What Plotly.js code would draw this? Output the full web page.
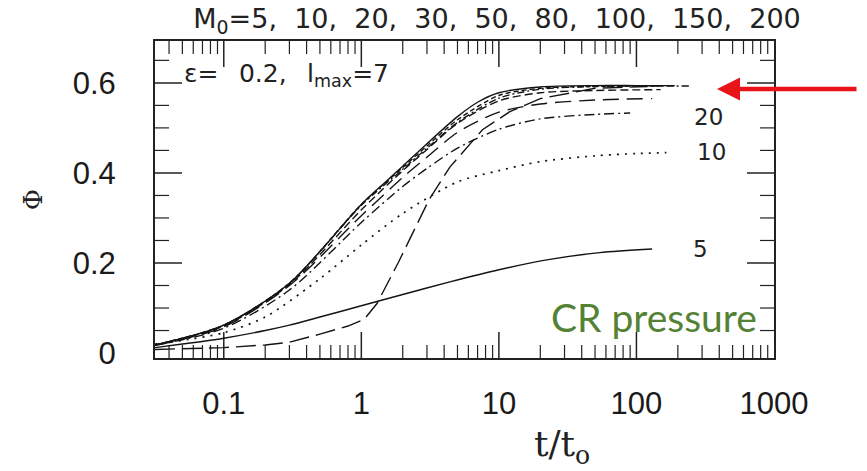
<!DOCTYPE html>
<html>
<head>
<meta charset="utf-8">
<script src="https://cdn.plot.ly/plotly-3.0.1.min.js"></script>
<style>html,body{margin:0;padding:0;background:#fff;}#chart{width:867px;height:471px;}</style>
</head>
<body>
<div id="chart"></div>
<script>
// ---- data (t/t0 vs Phi) ----
const machLabels = ["5", "10", "20", "30", "50", "80", "100", "150", "200"];

const tM5   = [0.0316, 0.05, 0.1, 0.2, 0.3, 0.5, 1, 2, 4.4, 10, 23.5, 54, 130];
const phiM5 = [0.012, 0.02, 0.033, 0.05, 0.062, 0.08, 0.105, 0.13, 0.158, 0.185, 0.208, 0.223, 0.231];

const tM10   = [0.0316, 0.05, 0.1, 0.2, 0.5, 1, 2, 5, 10, 20, 50, 100, 165];
const phiM10 = [0.02, 0.028, 0.045, 0.08, 0.165, 0.24, 0.31, 0.38, 0.405, 0.425, 0.438, 0.443, 0.445];

const tM20   = [0.0316, 0.1, 0.3, 1, 2, 3, 5, 10, 20, 50, 90];
const phiM20 = [0.017, 0.055, 0.14, 0.29, 0.37, 0.41, 0.455, 0.497, 0.52, 0.53, 0.533];

const tM30   = [0.0316, 0.1, 0.3, 1, 2, 3, 5, 10, 20, 50, 130];
const phiM30 = [0.017, 0.058, 0.15, 0.305, 0.39, 0.435, 0.49, 0.535, 0.553, 0.562, 0.565];

const tM50   = [0.0316, 0.1, 0.3, 1, 2, 3, 5, 10, 20, 50, 150];
const phiM50 = [0.018, 0.06, 0.152, 0.318, 0.405, 0.452, 0.51, 0.56, 0.578, 0.583, 0.585];

const tM80   = [0.0316, 0.1, 0.3, 1, 1.5, 2, 3, 5, 7, 10, 20, 50, 100, 190];
const phiM80 = [0.018, 0.062, 0.155, 0.33, 0.38, 0.415, 0.465, 0.525, 0.557, 0.578, 0.591, 0.594, 0.594, 0.594];

const tM100   = [0.0316, 0.1, 0.3, 1, 2, 3, 5, 10, 20, 50, 160];
const phiM100 = [0.018, 0.062, 0.155, 0.33, 0.412, 0.46, 0.518, 0.572, 0.588, 0.592, 0.593];

const tM150   = [0.0316, 0.1, 0.3, 1, 2, 3, 5, 10, 20, 50, 100, 245];
const phiM150 = [0.018, 0.062, 0.155, 0.328, 0.408, 0.455, 0.512, 0.566, 0.586, 0.592, 0.593, 0.593];

const tM200   = [0.0316, 0.1, 0.2, 0.3, 0.5, 0.8, 1.05, 1.3, 1.85, 2.3, 3.1, 4.4, 7.6, 12, 20, 50, 120];
const phiM200 = [0.008, 0.012, 0.018, 0.024, 0.042, 0.06, 0.075, 0.11, 0.2, 0.258, 0.34, 0.413, 0.496, 0.536, 0.565, 0.588, 0.592];

const xTickVals = [0.1, 1, 10, 100, 1000];
const xTickText = ["0.1", "1", "10", "100", "1000"];
const yTickVals = [0, 0.2, 0.4, 0.6];
const yTickText = ["0", "0.2", "0.4", "0.6"];

// curve end labels
const curveLabelText = ["20", "10", "5"];
const curveLabelT    = [335, 350, 290];
const curveLabelPhi  = [0.524, 0.447, 0.23];

// ---- geometry / styling ----
const W = 867, H = 471;
const L = 155, R = 774, T = 41, B = 358;
const xRange = [-1.5, 3];
const yRange = [-0.011, 0.693];
const px2paperX = px => (px - L) / (R - L);
const px2paperY = py => (B - py) / (B - T);

const ink = "#141414";
const frameCol = "#222222";
const series = [
  {t: tM5,   p: phiM5,   dash: "solid", shape: "spline", w: 1.4},
  {t: tM10,  p: phiM10,  dash: "2px,6px", shape: "spline", w: 1.7},
  {t: tM20,  p: phiM20,  dash: "10px,4px,2px,4px", shape: "spline", w: 1.4},
  {t: tM30,  p: phiM30,  dash: "16px,8px", shape: "spline", w: 1.4},
  {t: tM50,  p: phiM50,  dash: "8px,4px", shape: "spline", w: 1.4},
  {t: tM80,  p: phiM80,  dash: "solid", shape: "spline", w: 1.4},
  {t: tM100, p: phiM100, dash: "5px,3px", shape: "spline", w: 1.4},
  {t: tM150, p: phiM150, dash: "7px,3px,2px,3px", shape: "spline", w: 1.4},
  {t: tM200, p: phiM200, dash: "20px,7px", shape: "linear", w: 1.4}
];

// minor tick positions: 2..9 per decade on x, every 0.05 on y
const xMinor = [];
for (let d = -2; d <= 2; d++) {
  for (let k = 2; k <= 9; k++) {
    const v = k * Math.pow(10, d);
    if (v > 0.0316 && v < 1000) xMinor.push(v);
  }
}
const yMinor = [];
for (let k = 1; k <= 13; k++) if (k % 4 !== 0) yMinor.push(+(k * 0.05).toFixed(2));

// inward tick marks: line-symbol markers centred on the frame edges, the outer half clipped by the plot area
const xLo = Math.pow(10, xRange[0]), xHi = Math.pow(10, xRange[1]);
const symSize = len => len / 0.7;   // a line-ns / line-ew marker spans 1.4 * size/2 on each side
function markerTicks(xs, ys, symbol, len, w) {
  return {x: xs, y: ys, type: "scatter", mode: "markers", hoverinfo: "skip", showlegend: false,
    name: "tick", cliponaxis: true,
    marker: {symbol: symbol, size: symSize(len), color: frameCol, line: {color: frameCol, width: w}}};
}
const xMaj = xTickVals.filter(v => v < 1000);
const yMaj = yTickVals.filter(v => v > 0);
const tickTraces = [
  markerTicks(xMaj, xMaj.map(() => yRange[0]), "line-ns-open", 26, 1.5),
  markerTicks(xMaj, xMaj.map(() => yRange[1]), "line-ns-open", 26, 1.5),
  markerTicks(xMinor, xMinor.map(() => yRange[0]), "line-ns-open", 13, 1.2),
  markerTicks(xMinor, xMinor.map(() => yRange[1]), "line-ns-open", 13, 1.2),
  markerTicks(yMaj.map(() => xLo), yMaj, "line-ew-open", 27, 1.5),
  markerTicks(yMaj.map(() => xHi), yMaj, "line-ew-open", 27, 1.5),
  markerTicks(yMinor.map(() => xLo), yMinor, "line-ew-open", 14, 1.2),
  markerTicks(yMinor.map(() => xHi), yMinor, "line-ew-open", 14, 1.2)
];

// curves: series 0 sits on the label axes (x2,y2), which share the exact ranges of (x,y)
const curveTraces = series.map((s, i) => ({
  x: s.t, y: s.p, type: "scatter", mode: "lines",
  name: "M0=" + machLabels[i],
  xaxis: i === 0 ? "x2" : "x", yaxis: i === 0 ? "y2" : "y",
  line: {color: ink, width: s.w, dash: s.dash, shape: s.shape, smoothing: 0.8},
  hoverinfo: "skip"
}));
const traces = tickTraces.concat(curveTraces);

const annotations = [
  {
    text: "\u03B5=\u2002 0.2,\u2002 l<sub>max</sub>=7",
    xref: "paper", yref: "paper", x: px2paperX(182), y: px2paperY(75),
    xanchor: "left", yanchor: "middle", showarrow: false,
    font: {family: "DejaVu Sans", size: 25, color: "#222"}
  },
  {
    text: "t/t<sub>o</sub>",
    xref: "paper", yref: "paper", x: px2paperX(562), y: px2paperY(446),
    xanchor: "center", yanchor: "middle", showarrow: false,
    font: {family: "DejaVu Serif", size: 36, color: "#222"}
  },
  {
    text: "CR pressure",
    xref: "paper", yref: "paper", x: px2paperX(549), y: px2paperY(317),
    xanchor: "left", yanchor: "middle", showarrow: false,
    font: {family: "Lato", size: 39, color: "#548235"}
  },
  {
    text: "",
    xref: "paper", yref: "paper", x: px2paperX(717), y: px2paperY(89),
    axref: "pixel", ayref: "pixel", ax: 141, ay: 0,
    showarrow: true, arrowhead: 2, arrowsize: 1, arrowwidth: 4.6,
    arrowcolor: "#e8141a", standoff: 0, startstandoff: 0
  }
];
curveLabelText.forEach((s, i) => {
  annotations.push({
    text: s, xref: "x", yref: "y",
    x: Math.log10(curveLabelT[i]), y: curveLabelPhi[i],
    xanchor: "center", yanchor: "middle", showarrow: false,
    font: {family: "DejaVu Sans", size: 23, color: "#222"}
  });
});

const tickFont = {family: "Liberation Sans", size: 31, color: "#1a1a1a"};
const bare = {showgrid: false, zeroline: false, fixedrange: true};

const layout = {
  width: W, height: H,
  margin: {l: L, r: W - R, t: T, b: H - B, pad: 0},
  paper_bgcolor: "#ffffff", plot_bgcolor: "#ffffff",
  showlegend: false,
  title: {
    text: "M<sub>0</sub>=5,\u00A0 10,\u00A0 20,\u00A0 30,\u00A0 50,\u00A0 80,\u00A0 100,\u00A0 150,\u00A0 200",
    xref: "container", yref: "container", x: 497 / W, y: 1 - 19 / H,
    xanchor: "center", yanchor: "middle",
    font: {family: "DejaVu Sans", size: 27, color: "#222"}
  },
  // frame
  xaxis: Object.assign({}, bare, {
    type: "log", range: xRange, showticklabels: false, ticks: "",
    showline: true, linecolor: frameCol, linewidth: 1.8, mirror: true
  }),
  yaxis: Object.assign({}, bare, {
    range: yRange, showticklabels: false, ticks: "",
    showline: true, linecolor: frameCol, linewidth: 1.8, mirror: true
  }),
  // overlay axes carrying the tick labels and the y title
  xaxis2: Object.assign({}, bare, {
    type: "log", range: xRange, overlaying: "x", anchor: "y2", side: "bottom", showline: false,
    ticks: "outside", ticklen: 18, tickcolor: "rgba(0,0,0,0)",
    tickmode: "array", tickvals: xTickVals, ticktext: xTickText, tickfont: tickFont
  }),
  yaxis2: Object.assign({}, bare, {
    range: yRange, overlaying: "y", anchor: "x2", side: "left", showline: false,
    ticks: "outside", ticklen: 32, tickcolor: "rgba(0,0,0,0)",
    tickmode: "array", tickvals: yTickVals, ticktext: yTickText, tickfont: tickFont,
    title: {text: "\u03A6", font: {family: "DejaVu Serif", size: 26, color: "#222"}, standoff: 22}
  }),
  annotations: annotations
};

Plotly.newPlot("chart", traces, layout, {staticPlot: true, displayModeBar: false});
</script>
</body>
</html>
